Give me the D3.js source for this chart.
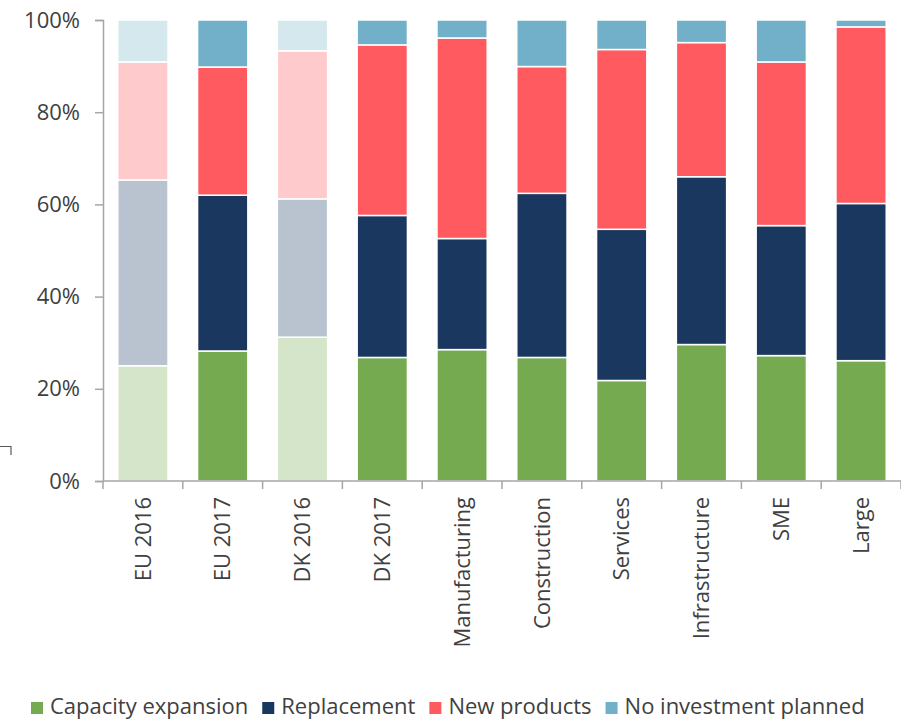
<!DOCTYPE html>
<html>
<head>
<meta charset="utf-8">
<script src="https://cdn.jsdelivr.net/npm/d3@7"></script>
<style>
  html, body { margin: 0; padding: 0; background: #fff; }
  svg text { font-family: "Open Sans", "Liberation Sans", sans-serif; fill: #404040; }
</style>
</head>
<body>
<svg id="chart" width="901" height="720"></svg>
<script>
// Investment purpose shares (% of firms), by group
const categories = ["EU 2016", "EU 2017", "DK 2016", "DK 2017", "Manufacturing",
                    "Construction", "Services", "Infrastructure", "SME", "Large"];
const seriesNames = ["Capacity expansion", "Replacement", "New products", "No investment planned"];
const capacityExpansion = [25.0, 28.2, 31.2, 26.8, 28.5, 26.8, 21.8, 29.6, 27.2, 26.1];
const replacement       = [40.3, 33.8, 30.0, 30.8, 24.1, 35.6, 32.8, 36.4, 28.2, 34.1];
const newProducts       = [25.6, 27.8, 32.1, 37.0, 43.5, 27.5, 39.0, 29.1, 35.5, 38.3];
const noInvestment      = [ 9.1, 10.2,  6.7,  5.4,  3.9, 10.1,  6.4,  4.9,  9.1,  1.5];
const yTicks = [0, 20, 40, 60, 80, 100];
// 2016 survey waves are drawn in faded tones
const fadedCategories = ["EU 2016", "DK 2016"];

const colors      = ["#76AA50", "#1A3760", "#FF5A5F", "#71B0C8"];
const fadedColors = ["#D5E5CA", "#B8C3CF", "#FFCACC", "#D5E8EE"];

const rows = categories.map((c, i) => ({
  category: c,
  "Capacity expansion": capacityExpansion[i],
  "Replacement": replacement[i],
  "New products": newProducts[i],
  "No investment planned": noInvestment[i]
}));

const svg = d3.select("#chart");
const margin = { top: 20, left: 103, right: 0, bottom: 239 };
const width = 901 - margin.left - margin.right;
const height = 720 - margin.top - margin.bottom;

const x = d3.scaleBand().domain(categories).range([margin.left, margin.left + width])
  .paddingInner(0.37).paddingOuter(0.185);
const y = d3.scaleLinear().domain([0, 100]).range([margin.top + height, margin.top]);

const stack = d3.stack().keys(seriesNames);
const layers = stack(rows);

const g = svg.append("g");
layers.forEach((layer, si) => {
  g.append("g").selectAll("rect")
    .data(layer)
    .join("rect")
    .attr("x", d => x(d.data.category))
    .attr("width", x.bandwidth())
    .attr("y", d => y(d[1]))
    .attr("height", d => y(d[0]) - y(d[1]))
    .attr("fill", d => fadedCategories.includes(d.data.category) ? fadedColors[si] : colors[si])
    .attr("stroke", "#fff")
    .attr("stroke-width", 1.5);
});

// Y axis
const yAxis = d3.axisLeft(y).tickValues(yTicks).tickFormat(d => d + "%").tickSize(8).tickPadding(15);
const yg = svg.append("g").attr("transform", `translate(${margin.left},0)`).call(yAxis);
yg.select(".domain").attr("stroke", "#A6A6A6").attr("stroke-width", 1.5);
yg.selectAll(".tick line").attr("stroke", "#A6A6A6").attr("stroke-width", 1.5);
yg.selectAll(".tick text").style("font-size", "22px").attr("fill", "#404040");

// X axis with ticks at band boundaries
const xg = svg.append("g").attr("transform", `translate(0,${margin.top + height})`);
xg.append("line")
  .attr("x1", margin.left).attr("x2", margin.left + width)
  .attr("stroke", "#A6A6A6").attr("stroke-width", 1.5);
const step = x.step();
const boundaries = d3.range(categories.length + 1).map(i => margin.left + i * step);
xg.selectAll(".bt").data(boundaries).join("line")
  .attr("x1", d => d).attr("x2", d => d).attr("y1", 0).attr("y2", 8)
  .attr("stroke", "#A6A6A6").attr("stroke-width", 1.5);
xg.selectAll(".xl").data(categories).join("text")
  .attr("transform", d => `translate(${x(d) + x.bandwidth() / 2},16) rotate(-90)`)
  .attr("text-anchor", "end")
  .attr("dy", "0.35em")
  .style("font-size", "22px")
  .text(d => d);

// Small bracket mark at the left edge
svg.append("path")
  .attr("d", "M0,446.5 H11 V455")
  .attr("fill", "none").attr("stroke", "#595959").attr("stroke-width", 1.2);

// Legend
const legend = svg.append("g").attr("transform", "translate(31,702)");
let lx = 0;
seriesNames.forEach((name, i) => {
  const item = legend.append("g").attr("transform", `translate(${lx},0)`);
  item.append("rect").attr("width", 12).attr("height", 12).attr("fill", colors[i]);
  const t = item.append("text").attr("x", 19).attr("y", 12)
    .style("font-size", "22px").text(name);
  lx += 19 + t.node().getComputedTextLength() + 14;
});
</script>
</body>
</html>
